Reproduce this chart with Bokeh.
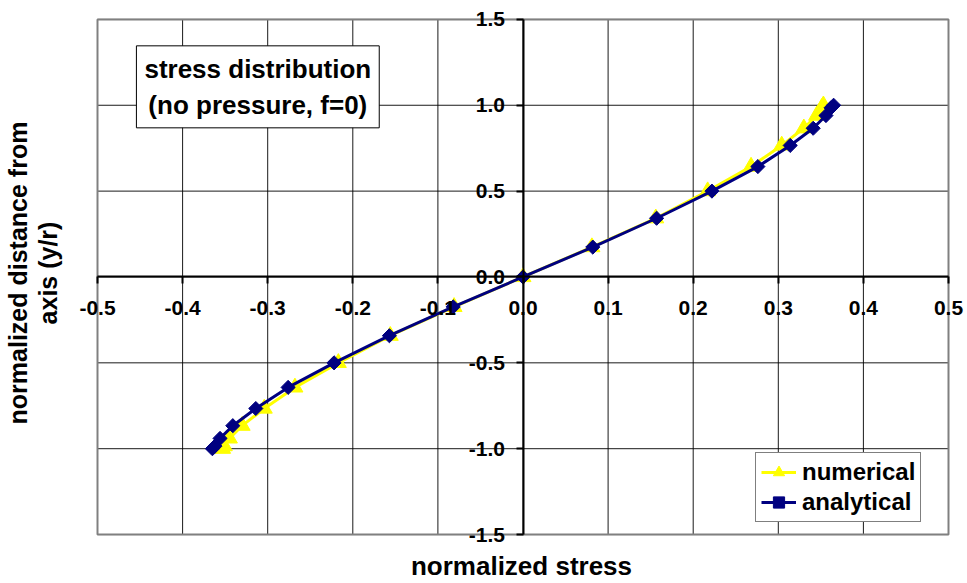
from bokeh.plotting import figure
from bokeh.models import (LinearAxis, FixedTicker, PrintfTickFormatter, Range1d,
                          Label, Legend, LegendItem)
from bokeh.embed import file_html
from bokeh.resources import INLINE
import math

# ---- data ----
y_pos = [-1.0, -0.985, -0.940, -0.866, -0.766, -0.643, -0.5, -0.342, -0.174, 0.0,
         0.174, 0.342, 0.5, 0.643, 0.766, 0.866, 0.940, 0.985, 1.0]
analytical = [-0.365, -0.362, -0.356, -0.341, -0.314, -0.276, -0.222, -0.157, -0.082, 0.0,
              0.082, 0.157, 0.222, 0.276, 0.314, 0.341, 0.356, 0.362, 0.365]
numerical = [-0.353, -0.351, -0.345, -0.330, -0.304, -0.268, -0.217, -0.156, -0.081, 0.0,
             0.081, 0.156, 0.217, 0.268, 0.304, 0.330, 0.345, 0.351, 0.353]
x_ticks = [-0.5, -0.4, -0.3, -0.2, -0.1, 0.0, 0.1, 0.2, 0.3, 0.4, 0.5]
y_ticks = [-1.5, -1.0, -0.5, 0.0, 0.5, 1.0, 1.5]

FONT = "Liberation Sans"

# plot area spans x_ticks[0]..x_ticks[-1], y_ticks[0]..y_ticks[-1]; the frame is a
# little larger so that the edge tick labels of the centred axes are not clipped
XPX = 851.0 / (x_ticks[-1] - x_ticks[0])
YPX = 518.0 / (y_ticks[-1] - y_ticks[0])
x_range = Range1d(x_ticks[0] - 22 / XPX, x_ticks[-1] + 19 / XPX)
y_range = Range1d(y_ticks[0] - 11 / YPX, y_ticks[-1] + 19 / YPX)

p = figure(width=967, height=583, x_range=x_range, y_range=y_range,
           output_backend="svg", toolbar_location=None,
           min_border_left=75, min_border_right=0, min_border_top=0, min_border_bottom=35)
p.background_fill_color = "white"
p.border_fill_color = "white"
p.outline_line_color = None
p.xgrid.visible = False
p.ygrid.visible = False

# grid lines and plot-area border
p.segment(x0=x_ticks, y0=[y_ticks[0]] * len(x_ticks), x1=x_ticks, y1=[y_ticks[-1]] * len(x_ticks),
          line_color="black", line_width=1, line_alpha=0.9, level="underlay")
p.segment(x0=[x_ticks[0]] * len(y_ticks), y0=y_ticks, x1=[x_ticks[-1]] * len(y_ticks), y1=y_ticks,
          line_color="black", line_width=1, line_alpha=0.9, level="underlay")
p.quad(left=[x_ticks[0]], right=[x_ticks[-1]], bottom=[y_ticks[0]], top=[y_ticks[-1]],
       fill_color=None, line_color="#808080", line_width=2, level="underlay")

# centred axes (Excel style)
for ax, ticks in ((p.xaxis[0], x_ticks), (p.yaxis[0], y_ticks)):
    ax.ticker = FixedTicker(ticks=ticks)
    ax.formatter = PrintfTickFormatter(format="%.1f")
    ax.fixed_location = 0
    ax.bounds = (ticks[0], ticks[-1])
    ax.axis_line_color = "black"
    ax.axis_line_width = 2
    ax.major_tick_line_color = "black"
    ax.major_tick_line_width = 2
    ax.major_tick_out = 7
    ax.major_tick_in = 0
    ax.minor_tick_line_color = None
    ax.major_label_text_font = FONT
    ax.major_label_text_font_style = "bold"
    ax.major_label_text_font_size = "21px"
    ax.major_label_text_color = "black"
p.xaxis[0].major_label_standoff = 17
p.yaxis[0].major_label_standoff = 11


def title_axis(label, size, standoff):
    a = LinearAxis(ticker=FixedTicker(ticks=[]), axis_label=label)
    a.axis_line_color = None
    a.major_tick_line_color = None
    a.minor_tick_line_color = None
    a.major_tick_out = 0
    a.major_tick_in = 0
    a.minor_tick_out = 0
    a.minor_tick_in = 0
    a.major_label_standoff = 0
    a.major_label_text_font_size = "0px"
    a.axis_label_standoff = standoff
    a.axis_label_text_font = FONT
    a.axis_label_text_font_style = "bold"
    a.axis_label_text_font_size = size
    a.axis_label_text_color = "black"
    a.axis_label_text_line_height = 1.05
    return a


p.add_layout(title_axis("normalized stress", "26px", 5), "below")
p.add_layout(title_axis("normalized distance from\naxis (y/r)", "25px", 14), "left")

# series
ln_num = p.line(numerical, y_pos, line_color="#FFFF00", line_width=3)
sc_num = p.scatter(numerical, y_pos, marker="triangle", size=16,
                   fill_color="#FFFF00", line_color="#FFFF00")
ln_ana = p.line(analytical, y_pos, line_color="#000080", line_width=3)
sc_ana = p.scatter(analytical, y_pos, marker="square", size=10, angle=math.pi / 4,
                   fill_color="#000080", line_color="#000080")

legend = Legend(items=[LegendItem(label="numerical", renderers=[ln_num, sc_num]),
                       LegendItem(label="analytical", renderers=[ln_ana, sc_ana])],
                location=(680, 23))
legend.label_text_font = FONT
legend.label_text_font_style = "bold"
legend.label_text_font_size = "24px"
legend.label_text_color = "black"
legend.glyph_width = 35
legend.glyph_height = 28
legend.label_height = 28
legend.label_standoff = 6
legend.spacing = 2
legend.padding = 5
legend.margin = 0
legend.border_line_color = "black"
legend.border_line_width = 1
legend.background_fill_alpha = 1
p.add_layout(legend, "center")

box = Label(x=-0.3116, y=1.346, text="stress distribution\n(no pressure, f=0)",
            text_align="center", text_baseline="top",
            text_font=FONT, text_font_style="bold", text_font_size="26px",
            text_color="black", text_line_height=1.2, padding=8,
            border_line_color="black", border_line_width=1,
            background_fill_color="white", background_fill_alpha=1)
p.add_layout(box)

open("out.html", "w").write(file_html(p, INLINE))
